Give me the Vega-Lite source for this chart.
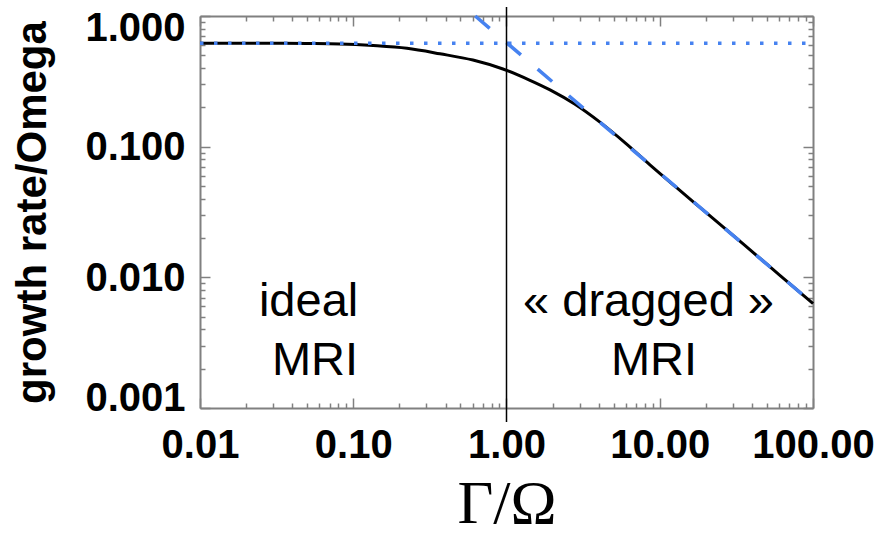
{
  "$schema": "https://vega.github.io/schema/vega-lite/v6.json",
  "width": 613,
  "height": 392,
  "autosize": {"type": "none"},
  "padding": {"left": 200, "top": 16, "right": 70, "bottom": 132},
  "background": "white",
  "config": {"view": {"stroke": null}},
  "datasets": {
    "curve": [
      {"g": 0.01, "v": 0.62}, {"g": 0.03, "v": 0.619}, {"g": 0.05, "v": 0.616},
      {"g": 0.082, "v": 0.611}, {"g": 0.135, "v": 0.594}, {"g": 0.224, "v": 0.566},
      {"g": 0.368, "v": 0.514}, {"g": 0.604, "v": 0.46}, {"g": 0.948, "v": 0.393},
      {"g": 1.4, "v": 0.325}, {"g": 1.924, "v": 0.272}, {"g": 2.8, "v": 0.211},
      {"g": 4.07, "v": 0.154}, {"g": 6.0, "v": 0.106}, {"g": 8.63, "v": 0.0726},
      {"g": 13, "v": 0.0481}, {"g": 20, "v": 0.0314}, {"g": 35, "v": 0.018},
      {"g": 60, "v": 0.0105}, {"g": 100, "v": 0.0063}
    ],
    "ideal": [{"g": 0.01, "v": 0.62}, {"g": 100, "v": 0.62}],
    "drag": [{"g": 0.625, "v": 1.0}, {"g": 100, "v": 0.0063}],
    "divide": [{"g": 1, "top": 1.17, "bottom": 0.00078}],
    "notes": [
      {"g": 0.0511, "v": 0.00507, "label": "ideal"},
      {"g": 0.0563, "v": 0.00179, "label": "MRI"},
      {"g": 8.45, "v": 0.00507, "label": "« dragged »"},
      {"g": 9.17, "v": 0.00179, "label": "MRI"}
    ]
  },
  "resolve": {"axis": {"x": "independent", "y": "independent"}},
  "layer": [
    {
      "data": {"name": "curve"},
      "mark": {"type": "line", "color": "black", "strokeWidth": 3, "interpolate": "monotone"},
      "encoding": {
        "x": {"field": "g", "type": "quantitative",
          "scale": {"type": "log", "domain": [0.01, 100], "nice": false},
          "axis": {"orient": "bottom", "values": [0.01, 0.1, 1, 10, 100], "format": ".2f",
            "ticks": false, "grid": false, "domain": true, "domainColor": "#808080", "domainWidth": 2,
            "labelFont": "Liberation Sans", "labelFontWeight": "bold", "labelFontSize": 40, "labelColor": "black",
            "labelPadding": 17, "labelOverlap": false, "labelBound": false, "labelFlush": false,
            "title": "Γ/Ω", "titleFont": "Liberation Serif", "titleFontWeight": "normal", "titleFontSize": 62,
            "titleColor": "black", "titlePadding": 8}},
        "y": {"field": "v", "type": "quantitative",
          "scale": {"type": "log", "domain": [0.001, 1], "nice": false},
          "axis": {"orient": "left", "values": [0.001, 0.01, 0.1, 1], "format": ".3f",
            "ticks": false, "grid": false, "domain": true, "domainColor": "#808080", "domainWidth": 2,
            "labelFont": "Liberation Sans", "labelFontWeight": "bold", "labelFontSize": 40, "labelColor": "black",
            "labelPadding": 15, "labelOverlap": false, "labelBound": false, "labelFlush": true,
            "labelFlushOffset": 9, "labelOffset": 1,
            "title": "growth rate/Omega", "titleFont": "Liberation Sans", "titleFontWeight": "bold",
            "titleFontSize": 42, "titleColor": "black", "titlePadding": 30}}
      }
    },
    {
      "data": {"name": "ideal"},
      "mark": {"type": "line", "color": "#4682F0", "strokeWidth": 3.5, "strokeDash": [3.5, 10.5]},
      "encoding": {
        "x": {"field": "g", "type": "quantitative",
          "axis": {"orient": "bottom", "values": [0.01, 0.1, 1, 10, 100], "labels": false, "domain": false,
            "grid": false, "ticks": true, "tickSize": -10, "tickColor": "#808080", "tickWidth": 1.5, "title": null}},
        "y": {"field": "v", "type": "quantitative",
          "axis": {"orient": "left", "values": [0.001, 0.01, 0.1, 1], "labels": false, "domain": false,
            "grid": false, "ticks": true, "tickSize": -10, "tickColor": "#808080", "tickWidth": 1.5, "title": null}}
      }
    },
    {
      "data": {"name": "drag"},
      "mark": {"type": "line", "color": "#4682F0", "strokeWidth": 3.5, "strokeDash": [19, 22]},
      "encoding": {
        "x": {"field": "g", "type": "quantitative",
          "axis": {"orient": "bottom",
            "values": [0.02, 0.03, 0.04, 0.05, 0.06, 0.07, 0.08, 0.09, 0.2, 0.3, 0.4, 0.5, 0.6, 0.7, 0.8, 0.9, 2, 3, 4, 5, 6, 7, 8, 9, 20, 30, 40, 50, 60, 70, 80, 90],
            "labels": false, "domain": false, "grid": false, "ticks": true, "tickSize": -5,
            "tickColor": "#808080", "tickWidth": 1.5, "title": null}},
        "y": {"field": "v", "type": "quantitative",
          "axis": {"orient": "left",
            "values": [0.002, 0.003, 0.004, 0.005, 0.006, 0.007, 0.008, 0.009, 0.02, 0.03, 0.04, 0.05, 0.06, 0.07, 0.08, 0.09, 0.2, 0.3, 0.4, 0.5, 0.6, 0.7, 0.8, 0.9],
            "labels": false, "domain": false, "grid": false, "ticks": true, "tickSize": -5,
            "tickColor": "#808080", "tickWidth": 1.5, "title": null}}
      }
    },
    {
      "data": {"name": "divide"},
      "mark": {"type": "rule", "color": "black", "strokeWidth": 1.5},
      "encoding": {
        "x": {"field": "g", "type": "quantitative",
          "axis": {"orient": "top", "values": [0.01, 0.1, 1, 10, 100], "labels": false, "domain": true,
            "domainColor": "#808080", "domainWidth": 2,
            "grid": false, "ticks": true, "tickSize": -10, "tickColor": "#808080", "tickWidth": 1.5, "title": null}},
        "y": {"field": "top", "type": "quantitative",
          "axis": {"orient": "right", "values": [0.001, 0.01, 0.1, 1], "labels": false, "domain": true,
            "domainColor": "#808080", "domainWidth": 2,
            "grid": false, "ticks": true, "tickSize": -10, "tickColor": "#808080", "tickWidth": 1.5, "title": null}},
        "y2": {"field": "bottom"}
      }
    },
    {
      "data": {"name": "notes"},
      "mark": {"type": "text", "font": "Liberation Sans", "fontSize": 47, "color": "black",
        "align": "center", "baseline": "alphabetic"},
      "encoding": {
        "x": {"field": "g", "type": "quantitative",
          "axis": {"orient": "top",
            "values": [0.02, 0.03, 0.04, 0.05, 0.06, 0.07, 0.08, 0.09, 0.2, 0.3, 0.4, 0.5, 0.6, 0.7, 0.8, 0.9, 2, 3, 4, 5, 6, 7, 8, 9, 20, 30, 40, 50, 60, 70, 80, 90],
            "labels": false, "domain": false, "grid": false, "ticks": true, "tickSize": -5,
            "tickColor": "#808080", "tickWidth": 1.5, "title": null}},
        "y": {"field": "v", "type": "quantitative",
          "axis": {"orient": "right",
            "values": [0.002, 0.003, 0.004, 0.005, 0.006, 0.007, 0.008, 0.009, 0.02, 0.03, 0.04, 0.05, 0.06, 0.07, 0.08, 0.09, 0.2, 0.3, 0.4, 0.5, 0.6, 0.7, 0.8, 0.9],
            "labels": false, "domain": false, "grid": false, "ticks": true, "tickSize": -5,
            "tickColor": "#808080", "tickWidth": 1.5, "title": null}},
        "text": {"field": "label", "type": "nominal"}
      }
    }
  ]
}
